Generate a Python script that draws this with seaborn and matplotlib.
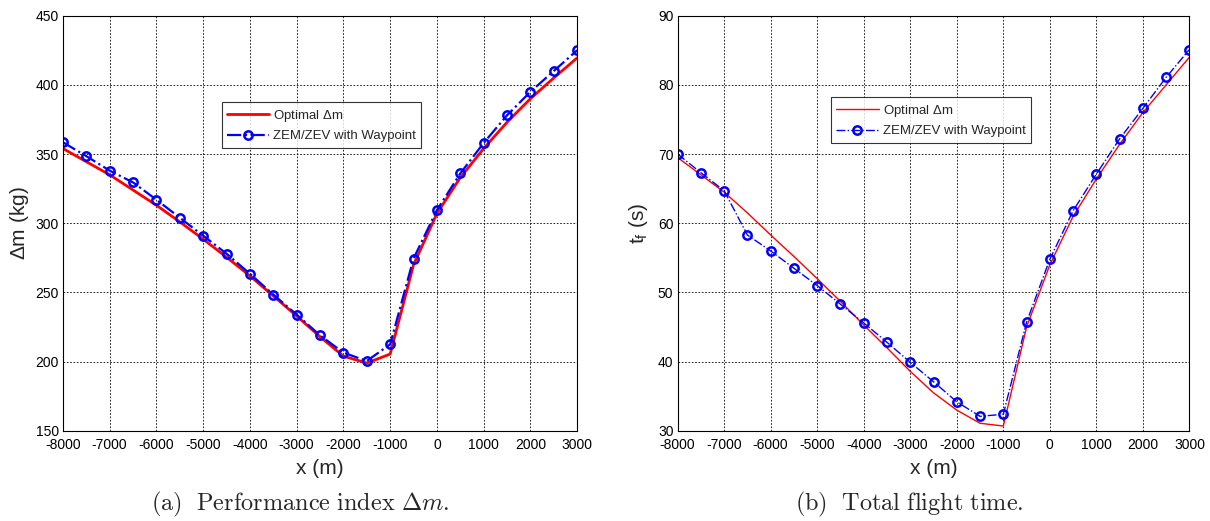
import numpy as np
import pandas as pd
import matplotlib
matplotlib.use("Agg")
import matplotlib.pyplot as plt
import seaborn as sns

# --- DATA ---
x_pos = [-8000, -7500, -7000, -6500, -6000, -5500, -5000, -4500, -4000, -3500, -3000, -2500,
         -2000, -1500, -1000, -500, 0, 500, 1000, 1500, 2000, 2500, 3000]

dm_opt = [354, 344.5, 335, 324, 313, 301, 288.5, 275.5, 262, 247.5, 233, 218,
          204, 199, 205.5, 270, 307, 333, 354, 373, 390, 405, 419.5]
dm_zem = [358.5, 348.5, 338, 329.5, 317, 304, 291, 278, 263.5, 248.5, 234, 219,
          206.5, 200.5, 212.5, 274.5, 309.5, 336, 358, 378, 395, 410, 425]

tf_opt = [69.5, 67, 64.5, 61.5, 58.3, 55.2, 52, 48.7, 45.3, 42, 38.6, 35.5,
          33, 31.1, 30.7, 45, 54, 61, 66.4, 71.4, 76, 80, 84]
tf_zem = [70, 67.3, 64.7, 58.3, 56, 53.5, 51, 48.3, 45.6, 42.8, 39.9, 37.1,
          34.2, 32.1, 32.4, 45.7, 54.8, 61.8, 67.1, 72.2, 76.6, 81.1, 85.1]

x_ticks = list(range(-8000, 3001, 1000))
lab_opt = r"Optimal $\Delta$m"
lab_zem = "ZEM/ZEV with Waypoint"

# --- STYLE ---
sns.set_style("white")
plt.rcParams.update({
    "font.family": ["Liberation Sans", "DejaVu Sans"],
    "mathtext.fontset": "custom",
    "mathtext.rm": "Liberation Sans",
    "mathtext.it": "Liberation Sans",
    "axes.unicode_minus": False,
    "xtick.direction": "in",
    "ytick.direction": "in",
    "xtick.labelsize": 10,
    "ytick.labelsize": 10,
})

fig = plt.figure(figsize=(12.1, 5.21), dpi=100)
ax1 = fig.add_axes([0.052, 0.173, 0.425, 0.797])
ax2 = fig.add_axes([0.560, 0.173, 0.423, 0.797])

panels = [
    (ax1, dm_opt, dm_zem, (150, 450), range(150, 451, 50), r"$\Delta$m (kg)", 2.0, 1.6,
     (0.296, 0.807), r"$\mathrm{(a)\ \ Performance\ index\ }\Delta m\mathrm{.}$", 3, 0.461),
    (ax2, tf_opt, tf_zem, (30, 90), range(30, 91, 10), r"t$_\mathregular{f}$ (s)", 1.0, 1.0,
     (0.287, 0.819), r"$\mathrm{(b)\ \ Total\ flight\ time.}$", 6, 0.453),
]

for ax, y_opt, y_zem, ylim, yticks, ylabel, lw_opt, lw_zem, leg_pos, caption, ypad, cap_x in panels:
    sns.lineplot(x=x_pos, y=y_opt, ax=ax, color="red", lw=lw_opt, label=lab_opt)
    sns.lineplot(x=x_pos, y=y_zem, ax=ax, color="blue", lw=lw_zem, linestyle="-.",
                 marker="o", markersize=6, markerfacecolor="none",
                 markeredgecolor="blue", markeredgewidth=1.8, label=lab_zem)
    ax.set_xlim(-8000, 3000)
    ax.set_ylim(*ylim)
    ax.set_xticks(x_ticks)
    ax.set_yticks(list(yticks))
    ax.grid(True, color="black", linestyle=(0, (2, 2)), linewidth=0.6)
    for s in ax.spines.values():
        s.set_color("black")
        s.set_linewidth(0.8)
    ax.tick_params(length=4, width=0.6, colors="black")
    ax.tick_params(axis="x", pad=5)
    ax.tick_params(axis="y", pad=3)
    ax.set_xlabel("x (m)", fontsize=15, labelpad=5)
    ax.set_ylabel(ylabel, fontsize=15, labelpad=ypad)
    leg = ax.legend(loc="upper left", bbox_to_anchor=leg_pos, fontsize=9.5,
                    frameon=True, fancybox=False, edgecolor="black",
                    handlelength=3.2, borderpad=0.4, labelspacing=0.5, handletextpad=0.3)
    leg.get_frame().set_linewidth(0.8)
    ax.text(cap_x, -0.178, caption, transform=ax.transAxes, ha="center", va="center",
            fontsize=17.5, math_fontfamily="cm")

fig.savefig("out.png", dpi=100)
